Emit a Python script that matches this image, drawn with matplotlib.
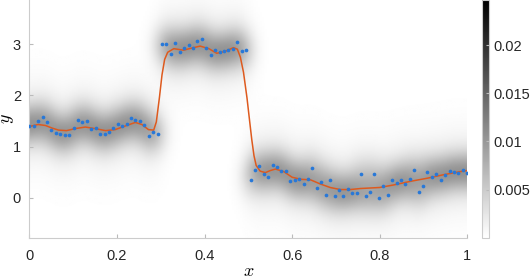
import numpy as np
import matplotlib
matplotlib.use("Agg")
import matplotlib.pyplot as plt

plt.rcParams['font.family'] = ['Liberation Sans', 'DejaVu Sans']
plt.rcParams['mathtext.fontset'] = 'cm'

# measured points (100 samples on [0, 1])
x_obs = np.linspace(0, 1, 100)
y_obs = np.array([
    1.40, 1.41, 1.50, 1.57, 1.47, 1.33, 1.26, 1.25, 1.23, 1.22,
    1.36, 1.51, 1.47, 1.49, 1.34, 1.37, 1.25, 1.25, 1.28, 1.36,
    1.44, 1.40, 1.44, 1.55, 1.52, 1.50, 1.42, 1.20, 1.29, 1.25,
    3.00, 3.00, 2.81, 3.03, 2.84, 2.92, 2.98, 2.92, 3.05, 3.09,
    2.92, 2.79, 2.88, 2.85, 2.86, 2.89, 2.91, 3.04, 2.86, 2.89,
    0.35, 0.55, 0.62, 0.47, 0.40, 0.63, 0.60, 0.53, 0.52, 0.33,
    0.34, 0.36, 0.26, 0.36, 0.58, 0.19, 0.31, 0.06, 0.34, 0.03,
    0.16, 0.04, 0.17, 0.10, 0.10, 0.47, 0.03, 0.11, 0.47, -0.01,
    0.23, 0.05, 0.34, 0.29, 0.35, 0.27, 0.36, 0.55, 0.11, 0.22,
    0.51, 0.41, 0.47, 0.35, 0.44, 0.53, 0.50, 0.48, 0.55, 0.49,
])

# fitted mean curve
x_fit = [0, 0.02, 0.037, 0.052, 0.067, 0.085, 0.105, 0.128, 0.15, 0.174,
         0.196, 0.219, 0.242, 0.257, 0.272, 0.284, 0.29, 0.297, 0.303, 0.309,
         0.316, 0.33, 0.352, 0.37, 0.39, 0.41, 0.428, 0.448, 0.466, 0.475,
         0.482, 0.489, 0.497, 0.503, 0.508, 0.513, 0.518, 0.527, 0.539, 0.55,
         0.562, 0.581, 0.60, 0.62, 0.642, 0.664, 0.687, 0.71, 0.733, 0.756,
         0.80, 0.832, 0.87, 0.908, 0.946, 0.984, 1.0]
y_fit = [1.39, 1.43, 1.41, 1.36, 1.32, 1.31, 1.35, 1.38, 1.35, 1.31,
         1.33, 1.40, 1.47, 1.43, 1.33, 1.32, 1.48, 1.95, 2.40, 2.70,
         2.84, 2.91, 2.88, 2.92, 2.96, 2.91, 2.82, 2.86, 2.93, 2.90,
         2.74, 2.45, 1.95, 1.50, 1.13, 0.82, 0.63, 0.52, 0.49, 0.53,
         0.56, 0.51, 0.40, 0.36, 0.35, 0.27, 0.20, 0.16, 0.16, 0.18,
         0.20, 0.25, 0.32, 0.38, 0.45, 0.51, 0.53]

ylim = (-0.78, 3.86)
cbar_ticks = [0.005, 0.01, 0.015, 0.02]
cmax = 0.0247


def rbf(a, b, ell):
    return np.exp(-0.5 * (a[:, None] - b[None, :]) ** 2 / ell ** 2)


# background density: kernel mixture of the points
gx = np.linspace(0, 1, 240)
gy = np.linspace(ylim[0], ylim[1], 240)
w = rbf(gx, x_obs, 0.02)
w = w / w.sum(axis=1, keepdims=True)
dens = np.zeros((len(gy), len(gx)))
for i in range(len(x_obs)):
    g = (np.exp(-0.5 * (gy - y_obs[i]) ** 2 / 0.27 ** 2)
         + 0.2 * np.exp(-0.5 * (gy - y_obs[i]) ** 2 / 0.6 ** 2))
    dens += g[:, None] * w[None, :, i]
dens = dens / dens.max() * 0.0105

fig = plt.figure(figsize=(5.30, 2.79), dpi=100)
ax = fig.add_axes([29.3 / 530, 1 - 237.7 / 279, (467.3 - 29.3) / 530, 237.7 / 279])
cax = fig.add_axes([482 / 530, 1 - 237.7 / 279, 7 / 530, 237.7 / 279])

im = ax.imshow(dens, extent=[0, 1, ylim[0], ylim[1]], origin='lower',
               aspect='auto', cmap='gray_r', vmin=0, vmax=cmax,
               interpolation='bilinear')
ax.plot(x_fit, y_fit, color='#DE5A1E', lw=1.1, zorder=3)
ax.scatter(x_obs, y_obs, s=7, color='#2878D8', zorder=4, linewidths=0)

ax.set_xlim(0, 1)
ax.set_ylim(*ylim)
ax.set_xticks([0, 0.2, 0.4, 0.6, 0.8, 1])
ax.set_xticklabels(['0', '0.2', '0.4', '0.6', '0.8', '1'])
ax.set_yticks([0, 1, 2, 3])
for s in ['top', 'right']:
    ax.spines[s].set_visible(False)
for s in ['left', 'bottom']:
    ax.spines[s].set_color('#cccccc')
    ax.spines[s].set_linewidth(0.8)
ax.tick_params(direction='in', length=3, color='#bbbbbb', labelsize=10.5,
               labelcolor='#262626')
ax.tick_params(axis='x', pad=8)
ax.tick_params(axis='y', pad=6)
ax.set_xlabel('$x$', fontsize=13)
ax.set_ylabel('$y$', fontsize=13)
ax.xaxis.set_label_coords(0.5, -0.108)
ax.yaxis.set_label_coords(-0.03, 0.5)

cb = fig.colorbar(im, cax=cax, ticks=cbar_ticks)
cb.ax.set_yticklabels(['0.005', '0.01', '0.015', '0.02'])
cb.outline.set_edgecolor('#cccccc')
cb.outline.set_linewidth(0.8)
cb.ax.tick_params(direction='in', length=2, color='#bbbbbb', labelsize=10.5,
                  labelcolor='#262626', pad=3)

fig.savefig('out.png', dpi=100)
